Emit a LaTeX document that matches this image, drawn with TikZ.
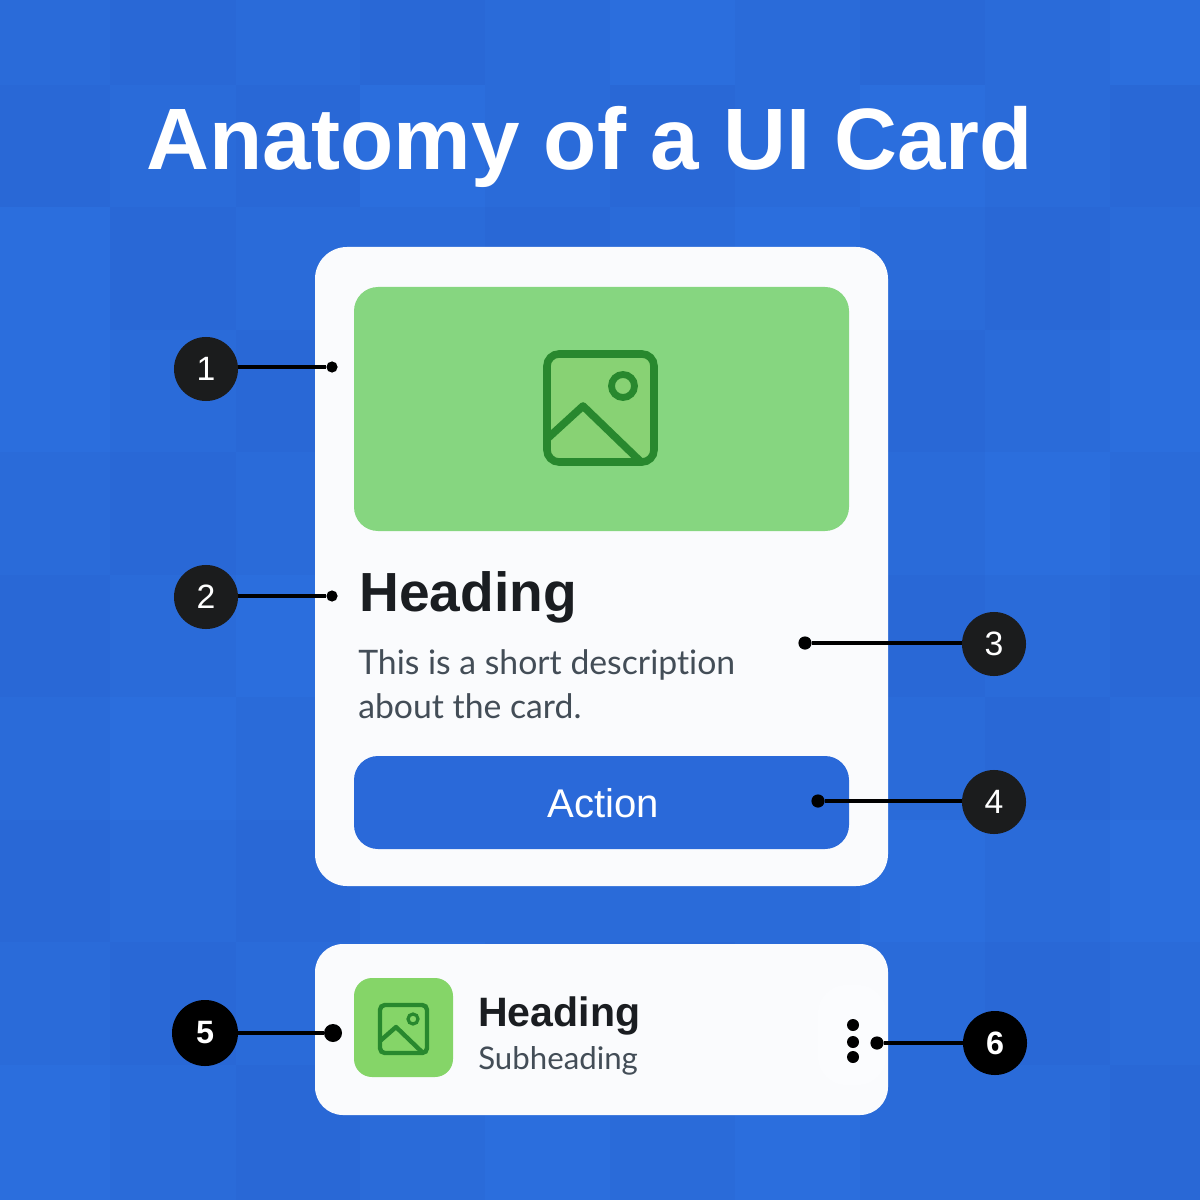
\documentclass[tikz,border=0pt]{standalone}
\usepackage{fontspec}
\setmainfont{Liberation Sans}
\newfontfamily\bodyfont[Ligatures=NoCommon]{Lato}
\definecolor{bgmid}{HTML}{2A6BD9}
\definecolor{bgdark}{HTML}{2968D6}
\definecolor{bglite}{HTML}{2B6EDD}
\definecolor{cardw}{HTML}{FAFBFD}
\definecolor{imggreen}{HTML}{86D680}
\definecolor{imgin}{HTML}{88D274}
\definecolor{sqgreen}{HTML}{85D568}
\definecolor{icong}{HTML}{28882E}
\definecolor{inkdark}{HTML}{1A1D21}
\definecolor{inkgrey}{HTML}{434D57}
\definecolor{btn}{HTML}{2A69D9}
\definecolor{badge}{HTML}{1B1C1D}
\tikzset{
  x=0.025cm,y=-0.025cm,
  badgeA/.style={circle,fill=badge,text=white,minimum size=1.6cm,inner sep=0pt,font=\fontsize{24}{24}\selectfont},
  badgeB/.style={badgeA,fill=black,font=\bfseries\fontsize{23}{23}\selectfont},
  tip/.style={circle,fill=black,inner sep=0pt,minimum size=#1},
  lead/.style={draw=black,line width=0.08cm},
  txt/.style={anchor=base west,inner sep=0pt},
  panel/.style={fill=cardw,rounded corners=#1},
}
\begin{document}
\begin{tikzpicture}
\useasboundingbox (0,0) rectangle (1200,1200);
\fill[bgmid] (0,0) rectangle (1200,1200);
% faint checker
\def\xs{{0,110,236,360,485,610,735,860,985,1110,1200}}
\def\ys{{0,85,207,330,452,575,697,820,942,1065,1200}}
\foreach \r/\c/\k in {
0/1/bgdark,0/3/bgdark,0/5/bglite,0/7/bgdark,0/9/bglite,
1/0/bgdark,1/2/bgdark,1/3/bglite,1/5/bgdark,1/7/bglite,1/9/bgdark,
2/0/bglite,2/1/bgdark,2/4/bgdark,2/6/bglite,2/8/bgdark,
3/0/bglite,3/2/bgdark,3/7/bgdark,3/9/bglite,
4/1/bgdark,4/8/bglite,
5/0/bgdark,5/2/bglite,5/7/bgdark,5/9/bgdark,
6/1/bglite,6/8/bgdark,
7/0/bgdark,7/2/bgdark,7/7/bglite,7/9/bglite,
8/1/bgdark,8/3/bglite,8/5/bgdark,8/8/bgdark,
9/0/bglite,9/2/bgdark,9/4/bglite,9/6/bglite,9/9/bgdark}
{
  \pgfmathsetmacro\xa{\xs[\c]}\pgfmathsetmacro\xb{\xs[\c+1]}
  \pgfmathsetmacro\ya{\ys[\r]}\pgfmathsetmacro\yb{\ys[\r+1]}
  \fill[\k] (\xa,\ya) rectangle (\xb,\yb);
}
\node[anchor=base,inner sep=0pt,text=white] (title) at (590,170) {\bfseries\fontsize{62}{62}\selectfont Anatomy of a UI Card};
% main card
\fill[panel=0.8cm] (315,247) rectangle (888,886);
\fill[imggreen,rounded corners=0.6cm] (354,287) rectangle (849,531);
% image icon
\draw[icong,line width=0.19cm,fill=imgin,rounded corners=0.3cm] (547,354) rectangle (654,462);
\draw[icong,line width=0.19cm,line join=round] (548,438) -- (583,406) -- (640,461);
\draw[icong,line width=0.17cm] (623,386) circle (11.5);
\node[txt,text=inkdark] (head) at (359,611) {\bfseries\fontsize{39.2}{39.2}\selectfont Heading};
\node[txt,text=inkgrey] (desc1) at (358,674) {\bodyfont\fontsize{24}{24}\selectfont This is a short description};
\node[txt,text=inkgrey] (desc2) at (358,718) {\bodyfont\fontsize{24}{24}\selectfont about the card.};
\fill[btn,rounded corners=0.6cm] (354,756) rectangle (849,849);
\node[inner sep=0pt,text=white] (action) at (603,803) {\fontsize{28.5}{28.5}\selectfont Action};
% second card
\fill[panel=0.7cm] (315,944) rectangle (888,1115);
\fill[white!30!cardw,rounded corners=0.7cm] (818,985) rectangle (886,1085);
\fill[sqgreen,rounded corners=0.45cm] (354,978) rectangle (453,1077);
\draw[icong,line width=0.11cm,rounded corners=0.12cm] (380,1005) rectangle (427,1053);
\draw[icong,line width=0.11cm,line join=round] (380,1041) -- (396,1027) -- (422,1052);
\draw[icong,line width=0.08cm] (413,1019) circle (5);
\node[txt,text=inkdark] (head2) at (478,1026) {\bfseries\fontsize{29.2}{29.2}\selectfont Heading};
\node[txt,text=inkgrey] (sub) at (478,1069) {\bodyfont\fontsize{22.2}{22.2}\selectfont Subheading};
\node[tip=0.3cm] (k1) at (853,1025) {};
\node[tip=0.3cm] (k2) at (853,1042) {};
\node[tip=0.3cm] (k3) at (853,1057) {};
% callouts
\node[badgeA] (c1) at (206,369) {1};
\node[badgeA] (c2) at (206,597) {2};
\node[badgeA] (c3) at (994,644) {3};
\node[badgeA] (c4) at (994,802) {4};
\node[badgeB,minimum size=1.65cm] (c5) at (205,1033) {5};
\node[badgeB] (c6) at (995,1043) {6};
\node[tip=0.28cm] (d1) at (332,367) {};
\node[tip=0.28cm] (d2) at (332,596) {};
\node[tip=0.33cm] (d3) at (805,643) {};
\node[tip=0.33cm] (d4) at (818,801) {};
\node[tip=0.45cm] (d5) at (333,1033) {};
\node[tip=0.33cm] (d6) at (877,1043) {};
\draw[lead] (c1.east |- d1) -- (d1);
\draw[lead] (c2.east |- d2) -- (d2);
\draw[lead] (c3.west |- d3) -- (d3);
\draw[lead] (c4.west |- d4) -- (d4);
\draw[lead] (c5.east |- d5) -- (d5);
\draw[lead] (c6.west |- d6) -- (d6);
\end{tikzpicture}
\end{document}
